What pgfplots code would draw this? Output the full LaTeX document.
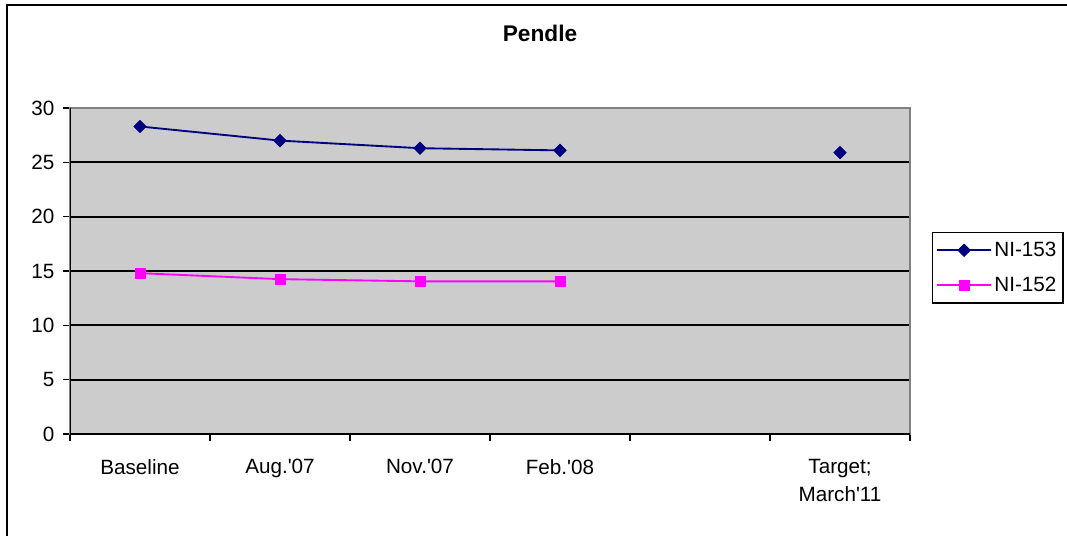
\documentclass[border=0pt]{standalone}
\usepackage{fontspec}
\setmainfont{Liberation Sans}
\usepackage{pgfplots}
\pgfplotsset{compat=1.18}

\definecolor{plotbg}{RGB}{204,204,204}
\definecolor{frameg}{RGB}{128,128,128}
\definecolor{ninavy}{RGB}{0,0,128}
\definecolor{nimag}{RGB}{255,0,255}

\newcommand{\q}{\textquotesingle}

\begin{document}
\begin{tikzpicture}[x=1pt,y=1pt]
	\useasboundingbox (0,0) rectangle (800.25,402);
	% outer chart frame (only top and left edges visible)
	\draw[line width=2.2pt] (5.25,0) -- (5.25,398.25) -- (800.25,398.25);
	\node[font=\bfseries\fontsize{17}{20}\selectfont] at (405,377.25) {Pendle};
	\begin{axis}[
		at={(52.5pt,76.5pt)}, anchor=origin,
		scale only axis,
		width=630pt, height=244.5pt,
		xmin=0, xmax=6,
		ymin=0, ymax=30,
		unbounded coords=jump,
		axis background/.style={fill=plotbg},
		axis line style={draw=frameg, line width=1pt},
		xtick={0.5,1.5,2.5,3.5,4.5,5.5},
		xticklabels={Baseline, Aug.\q07, Nov.\q07, Feb.\q08, {}, {Target;\\March\q11}},
		minor xtick={0,1,2,3,4,5,6},
		xtick pos=bottom, ytick pos=left,
		x tick label style={align=center, yshift=-10pt},
		y tick label style={xshift=-3pt},
		ytick={0,5,10,15,20,25,30},
		tick align=outside,
		major tick length=5.25pt,
		minor tick length=5.25pt,
		x tick style={draw=none},
		minor x tick style={draw=black, line width=1pt},
		y tick style={draw=black, line width=1pt},
		ymajorgrids,
		major grid style={black, line width=1.5pt},
		tick label style={font=\fontsize{15.5}{21}\selectfont},
		/pgf/number format/assume math mode=true,
		legend style={at={(1.026,0.6196)}, anchor=north west,
			draw=black, line width=1pt, font=\fontsize{15.5}{18}\selectfont,
			inner xsep=3pt, inner ysep=5pt, row sep=10pt,
			legend cell align=left},
		legend image code/.code={
			\draw[mark repeat=2, mark phase=2] plot coordinates {(0pt,0pt) (20pt,0pt) (40pt,0pt)};
		},
	]
	\addplot[ninavy, line width=1.4pt, mark=square*, mark size=3.3pt,
		mark options={solid, line width=0.5pt, rotate=45}] coordinates {
		(0.5,28.3) (1.5,27.0) (2.5,26.3) (3.5,26.1) (4.5,nan) (5.5,25.9)
	};
	\addlegendentry{NI-153}
	\addplot[nimag, line width=1.4pt, mark=square*, mark size=3.8pt,
		mark options={solid, line width=0.5pt}] coordinates {
		(0.5,14.8) (1.5,14.25) (2.5,14.05) (3.5,14.05)
	};
	\addlegendentry{NI-152}
	% black value and category axis lines
	\draw[black, line width=1.5pt] (rel axis cs:0,1) -- (rel axis cs:0,0) -- (rel axis cs:1,0);
	\end{axis}
\end{tikzpicture}
\end{document}
